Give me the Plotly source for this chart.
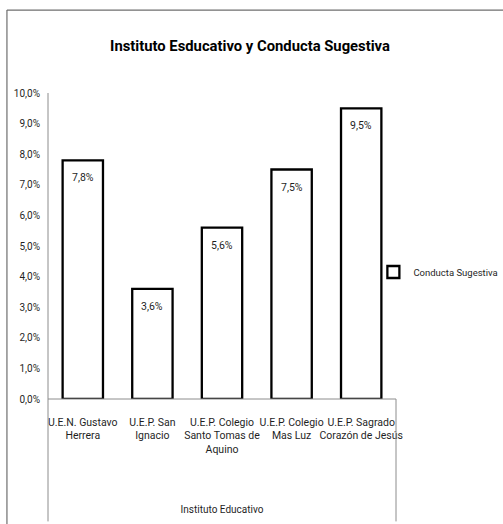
import plotly.graph_objects as go

categories = ["U.E.N. Gustavo<br>Herrera", "U.E.P. San<br>Ignacio",
              "U.E.P. Colegio<br>Santo Tomas de<br>Aquino", "U.E.P. Colegio<br>Mas Luz",
              "U.E.P. Sagrado<br>Corazón de Jesús"]
values = [0.078, 0.036, 0.056, 0.075, 0.095]
labels = ["7,8%", "3,6%", "5,6%", "7,5%", "9,5%"]
series_name = "Conducta Sugestiva"
title = "Instituto Esducativo y Conducta Sugestiva"
x_title = "Instituto Educativo"

FONT = "Roboto, Lato, Liberation Sans, sans-serif"
TXT = "#1f1f1f"

fig = go.Figure()
fig.add_trace(go.Bar(
    x=categories, y=values, name=series_name,
    marker=dict(color="white", line=dict(color="black", width=2.3)),
    width=0.58, showlegend=True,
))
for c, v, t in zip(categories, values, labels):
    fig.add_annotation(x=c, y=v, text=t, showarrow=False, yanchor="top", yshift=-9,
                       font=dict(family=FONT, size=10.5, color=TXT))

# axis decoration lines (Excel style)
L = dict(color="#8c8c8c", width=1)
fig.add_shape(type="line", xref="paper", yref="paper", x0=0, x1=0, y0=1, y1=-0.4, line=L)
fig.add_shape(type="line", xref="paper", yref="paper", x0=0, x1=1, y0=0, y1=0, line=L)
fig.add_shape(type="line", xref="paper", yref="paper", x0=1, x1=1, y0=0, y1=-0.4, line=L)
# outer chart border
B = dict(color="#6e6e6e", width=1.2)
fig.add_shape(type="line", xref="paper", yref="paper", x0=-0.118, x1=-0.118, y0=1.271, y1=-0.5, line=B)
fig.add_shape(type="line", xref="paper", yref="paper", x0=-0.118, x1=1.4, y0=1.271, y1=1.271, line=B)

fig.update_layout(
    width=503, height=524,
    margin=dict(l=48, r=107, t=93, b=125, autoexpand=False),
    paper_bgcolor="white", plot_bgcolor="white",
    separators=",.",
    title=dict(text="<b>" + title + "</b>", x=0.497, xanchor="center", y=0.912, yanchor="middle",
               font=dict(family=FONT, size=14.8, color="black")),
    font=dict(family=FONT, size=10, color=TXT),
    bargap=0.42,
    showlegend=True,
    legend=dict(x=0.935, y=0.415, xanchor="left", yanchor="middle",
                font=dict(family=FONT, size=9.5, color=TXT),
                itemwidth=30, bgcolor="rgba(0,0,0,0)"),
    xaxis=dict(showline=False, showgrid=False, ticks="", tickangle=0,
               ticklabelstandoff=15,
               tickfont=dict(family=FONT, size=10.5, color=TXT),
               title=dict(text=x_title, standoff=51, font=dict(family=FONT, size=10, color=TXT))),
    yaxis=dict(range=[0, 0.1], dtick=0.01, tickformat=".1%", showline=False, showgrid=False,
               zeroline=False, ticks="", ticklabelstandoff=7,
               tickfont=dict(family=FONT, size=10, color=TXT)),
)

fig.write_html("out.html")
